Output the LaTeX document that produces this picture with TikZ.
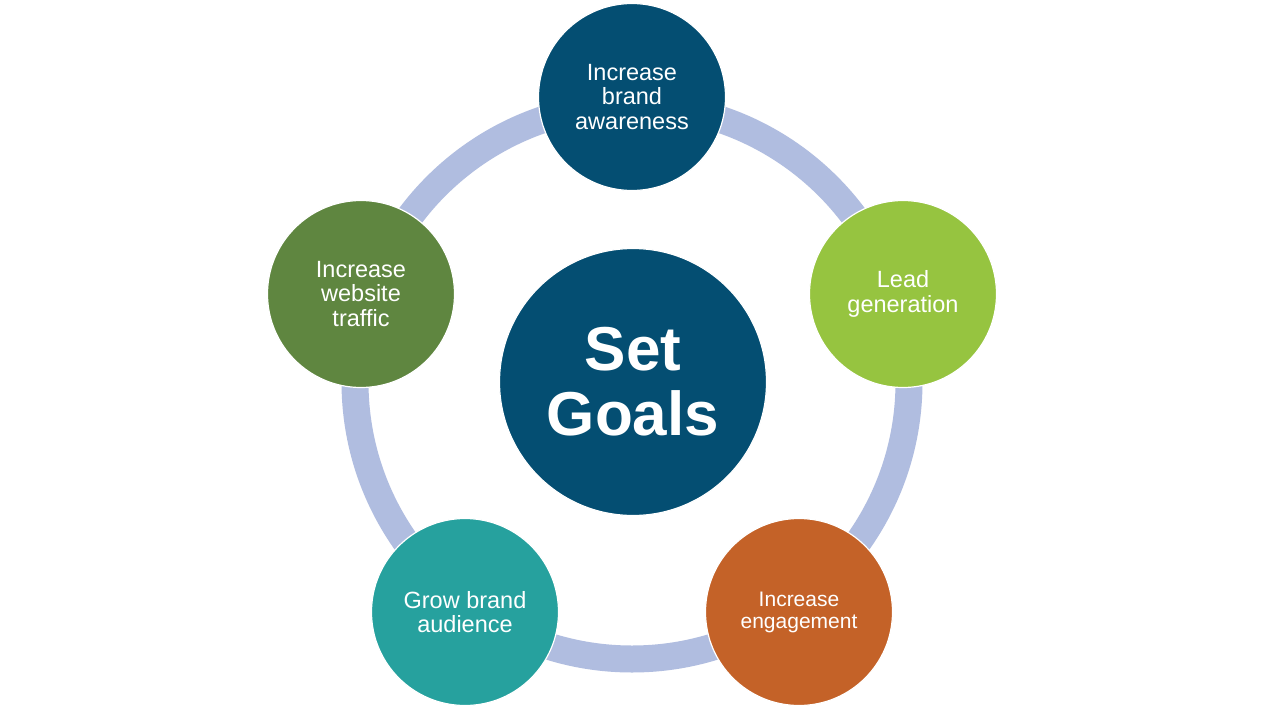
\documentclass[tikz,border=0pt]{standalone}
\usepackage{fontspec}
\setmainfont{Liberation Sans}
\definecolor{darkblue}{RGB}{4,78,114}
\definecolor{lightgreen}{RGB}{150,196,64}
\definecolor{burnt}{RGB}{196,98,40}
\definecolor{teal}{RGB}{38,161,158}
\definecolor{olive}{RGB}{95,134,64}
\definecolor{ringcol}{RGB}{176,189,224}
\tikzset{
  goal/.style={circle, draw=white, line width=1.2pt, minimum size=187pt, inner sep=0pt,
    text=white, align=center, font=\fontsize{23.5}{24.5}\selectfont},
  hub/.style={circle, draw=white, line width=1.2pt, fill=darkblue, minimum size=267pt, inner sep=0pt,
    text=white, align=center, font=\fontsize{62}{65}\selectfont\bfseries},
  ringline/.style={draw=ringcol, line width=27pt}
}
\begin{document}
\begin{tikzpicture}[x=1pt,y=-1pt]
\useasboundingbox[fill=white] (0,0) rectangle (1280,720);
\coordinate (c) at (632,382);
\draw[ringline] (c) circle (277pt);
\node[hub] (hub) at (633,382) {Set\\Goals};
\node[goal, fill=darkblue] (top) at (632,97) {Increase\\brand\\awareness};
\node[goal, fill=lightgreen] (right) at (903,294) {Lead\\generation};
\node[goal, fill=burnt, font=\fontsize{21}{22}\selectfont] (bright) at (799,612) {Increase\\engagement};
\node[goal, fill=teal] (bleft) at (465,612) {Grow brand\\audience};
\node[goal, fill=olive] (left) at (361,294) {Increase\\website\\traffic};
\end{tikzpicture}
\end{document}
